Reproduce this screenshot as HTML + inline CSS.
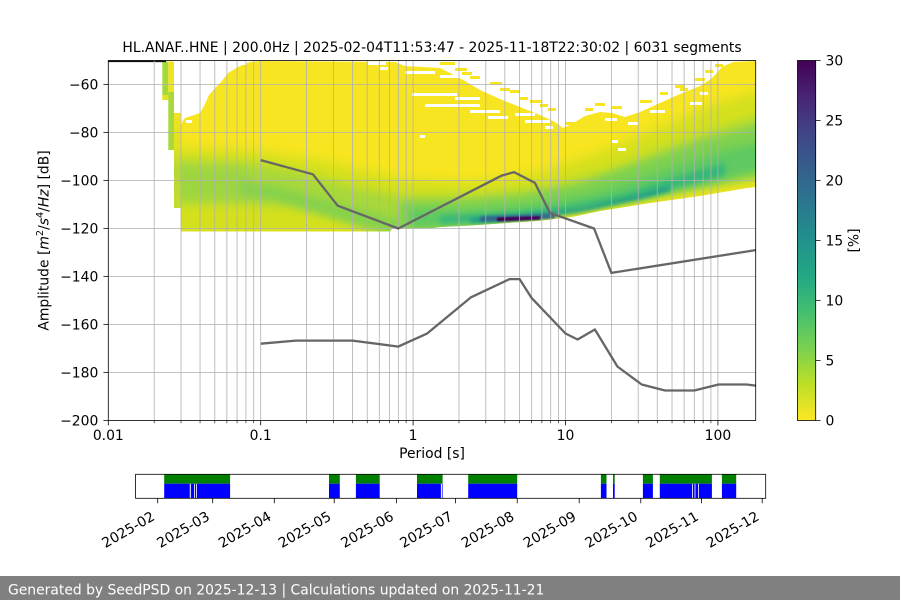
<!DOCTYPE html>
<html><head><meta charset="utf-8"><style>
html,body{margin:0;padding:0;background:#fff;}
svg{display:block;}
text{font-family:"DejaVu Sans","Liberation Sans",sans-serif;fill:#000;}
</style></head><body>
<svg width="900" height="600" viewBox="0 0 900 600" xmlns="http://www.w3.org/2000/svg">
<defs>
<clipPath id="ax"><rect x="108.3" y="60.5" width="647.4" height="360"/></clipPath>
<clipPath id="body"><polygon points="180.5,124 185,118 200,113 205,104 209,95 215,88 221,82 228,73 238,67 250,62 260,61 395,62 405,66 440,68 452,74 465,81 480,90 500,99 520,107 540,115 555,122 563,128 572,124 585,116 600,112 612,113 625,117 640,112 660,103 680,94 700,86 712,78 722,67 733,62 756,61 756,187 747,188 700,196 650,203 600,211 573,216.7 540,220.7 507,223 470,225.5 440,227 433,228 392,228.5 390,231.5 180.5,231.5"/></clipPath>
<filter id="b6" filterUnits="userSpaceOnUse" x="0" y="0" width="900" height="600"><feGaussianBlur stdDeviation="6"/></filter>
<filter id="b5" filterUnits="userSpaceOnUse" x="0" y="0" width="900" height="600"><feGaussianBlur stdDeviation="5"/></filter>
<filter id="b4" filterUnits="userSpaceOnUse" x="0" y="0" width="900" height="600"><feGaussianBlur stdDeviation="4"/></filter>
<filter id="b3" filterUnits="userSpaceOnUse" x="0" y="0" width="900" height="600"><feGaussianBlur stdDeviation="3"/></filter>
<filter id="b2" filterUnits="userSpaceOnUse" x="0" y="0" width="900" height="600"><feGaussianBlur stdDeviation="2"/></filter>
<filter id="b15" filterUnits="userSpaceOnUse" x="0" y="0" width="900" height="600"><feGaussianBlur stdDeviation="1.3"/></filter>
<filter id="b08" filterUnits="userSpaceOnUse" x="0" y="0" width="900" height="600"><feGaussianBlur stdDeviation="0.7"/></filter>
<linearGradient id="vir" x1="0" y1="0" x2="0" y2="1">
<stop offset="0" stop-color="#440154"/><stop offset="0.1" stop-color="#482475"/><stop offset="0.2" stop-color="#414487"/><stop offset="0.3" stop-color="#355f8d"/><stop offset="0.4" stop-color="#2a788e"/><stop offset="0.5" stop-color="#21918c"/><stop offset="0.6" stop-color="#22a884"/><stop offset="0.7" stop-color="#44bf70"/><stop offset="0.8" stop-color="#7ad151"/><stop offset="0.9" stop-color="#bddf26"/><stop offset="1" stop-color="#fde725"/>
</linearGradient>
<linearGradient id="strip3" x1="0" y1="0" x2="0" y2="1">
<stop offset="0" stop-color="#f2e320"/><stop offset="0.35" stop-color="#e0e11f"/><stop offset="0.6" stop-color="#b2d934"/><stop offset="1" stop-color="#c4dd2a"/>
</linearGradient>
</defs>

<!-- heatmap -->
<g clip-path="url(#ax)">
<g clip-path="url(#body)">
<rect x="170" y="55" width="600" height="190" fill="#f8e521"/>
<polygon filter="url(#b6)" fill="#d4e01f" points="170,148 250,150 320,160 400,178 470,182 540,172 600,152 660,127 720,102 770,88 770,182 600,210 430,234 170,238"/>
<polygon filter="url(#b5)" fill="#a8d83a" points="170,160 250,163 300,172 350,186 400,196 480,195 550,187 610,170 680,142 770,112 770,176 680,190 600,205 500,221 420,232 390,234 340,220 290,207 240,204 170,204"/>
<polygon filter="url(#b5)" fill="#9dd640" points="178,168 250,171 250,197 178,197"/>
<polygon filter="url(#b4)" fill="#86d24b" points="240,180 280,187 330,201 380,214 405,220 400,233 370,229 320,213 275,200 240,196"/>
<polygon filter="url(#b4)" fill="#7ed14f" points="400,202 460,201 520,196 580,184 640,163 700,142 770,122 770,172 700,187 640,199 580,209 520,219 460,226 400,230"/>
<polygon filter="url(#b4)" fill="#5ec962" points="410,210 470,210 530,205 590,194 650,175 710,154 770,140 770,166 710,181 650,195 590,206 530,217 470,224 410,228"/>
<polygon filter="url(#b3)" fill="#35b779" points="440,216 500,213 560,207 620,195 680,176 725,163 725,176 680,186 620,200 560,212 500,220 440,224"/>
<polygon filter="url(#b2)" fill="#1f9e89" points="470,218 520,215 580,208 640,194 670,186 670,191 640,199 580,212 520,220 470,223"/>
<polygon filter="url(#b15)" fill="#31688e" points="480,216.5 555,213.5 555,218.5 480,222"/>
<polygon filter="url(#b08)" fill="#440154" points="497,217.5 540,216.3 540,219.5 497,221.3"/>
</g>
<!-- white holes in yellow -->
<g fill="#fff">
<rect x="232" y="62" width="14" height="3"/><rect x="368" y="62" width="18" height="3"/><rect x="380" y="67" width="8" height="3"/>
<rect x="405" y="71" width="30" height="3"/><rect x="440" y="75" width="20" height="3"/>
<rect x="412" y="93" width="45" height="3"/><rect x="425" y="104" width="55" height="3"/>
<rect x="455" y="97" width="25" height="3"/><rect x="470" y="110" width="30" height="3"/>
<rect x="488" y="116" width="20" height="3"/><rect x="515" y="113" width="20" height="3"/>
<rect x="525" y="120" width="25" height="3"/><rect x="545" y="126" width="8" height="3"/>
<rect x="605" y="118" width="12" height="3"/><rect x="628" y="122" width="10" height="3"/>
<rect x="650" y="110" width="15" height="3"/><rect x="690" y="102" width="12" height="3"/>
<rect x="700" y="92" width="8" height="3"/><rect x="618" y="148" width="8" height="3"/>
<rect x="420" y="135" width="5" height="3"/><rect x="612" y="140" width="6" height="3"/>
<rect x="176" y="118" width="6" height="6"/><rect x="186" y="120" width="6" height="3"/>
</g>
<!-- scattered yellow outside -->
<g fill="#f8e521">
<rect x="440" y="62" width="15" height="3"/><rect x="455" y="68" width="12" height="3"/>
<rect x="470" y="76" width="10" height="3"/><rect x="490" y="82" width="12" height="3"/>
<rect x="510" y="90" width="10" height="3"/><rect x="530" y="100" width="12" height="3"/>
<rect x="548" y="108" width="8" height="3"/><rect x="595" y="103" width="10" height="3"/>
<rect x="640" y="100" width="12" height="3"/><rect x="660" y="92" width="8" height="3"/>
<rect x="675" y="85" width="10" height="3"/><rect x="695" y="78" width="10" height="3"/>
<rect x="705" y="70" width="8" height="3"/><rect x="565" y="122" width="10" height="3"/>
<rect x="520" y="97" width="8" height="3"/><rect x="585" y="108" width="8" height="3"/>
<rect x="462" y="72" width="10" height="3"/><rect x="500" y="88" width="10" height="3"/>
<rect x="540" y="104" width="8" height="3"/><rect x="612" y="106" width="10" height="3"/>
<rect x="680" y="88" width="8" height="3"/><rect x="715" y="64" width="8" height="3"/>
</g>
<!-- left strips -->
<rect x="162.3" y="61.5" width="6" height="36" fill="#a6d83a"/>
<rect x="162.3" y="95" width="6" height="5" fill="#e6e21e"/>
<rect x="168.3" y="61.5" width="5.7" height="30.5" fill="#f2e320"/>
<rect x="168.3" y="92" width="5.7" height="58" fill="#a8d83a"/>
<rect x="174" y="113" width="6.6" height="95" fill="url(#strip3)"/>
<line x1="108.3" y1="60.8" x2="166" y2="60.8" stroke="#111" stroke-width="2.6"/>
</g>

<!-- grid -->
<g stroke="#b0b0b0" stroke-width="0.8" fill="none">
<path d="M154.18 60.5V420.5M181.01 60.5V420.5M200.05 60.5V420.5M214.82 60.5V420.5M226.89 60.5V420.5M237.09 60.5V420.5M245.93 60.5V420.5M253.73 60.5V420.5M260.7 60.5V420.5M306.58 60.5V420.5M333.41 60.5V420.5M352.45 60.5V420.5M367.22 60.5V420.5M379.29 60.5V420.5M389.49 60.5V420.5M398.33 60.5V420.5M406.13 60.5V420.5M413.1 60.5V420.5M458.98 60.5V420.5M485.81 60.5V420.5M504.85 60.5V420.5M519.62 60.5V420.5M531.69 60.5V420.5M541.89 60.5V420.5M550.73 60.5V420.5M558.53 60.5V420.5M565.5 60.5V420.5M611.38 60.5V420.5M638.21 60.5V420.5M657.25 60.5V420.5M672.02 60.5V420.5M684.09 60.5V420.5M694.29 60.5V420.5M703.13 60.5V420.5M710.93 60.5V420.5M717.9 60.5V420.5"/>
<path d="M108.3 84.5H755.7M108.3 132.5H755.7M108.3 180.5H755.7M108.3 228.5H755.7M108.3 276.5H755.7M108.3 324.5H755.7M108.3 372.5H755.7"/>
</g>

<!-- noise model lines -->
<g clip-path="url(#ax)" fill="none" stroke="#666" stroke-width="2.3" stroke-linejoin="round">
<polyline points="260.7,160.1 312.9,174.3 337.7,205.7 398.3,228.5 501.5,175.7 514.1,172.1 534.9,182.9 549.9,212.9 594.1,228.5 611.4,272.9 755.7,250.1"/>
<polyline points="260.7,343.7 295.8,340.6 352.5,340.6 398.3,346.6 427.3,333.4 471,297.3 509.6,279.1 519.6,279.1 531.7,298.1 565.5,333.5 577.6,339.5 594.9,329.5 617.4,366.5 641.7,384.5 665.1,390.5 694.3,390.5 718.6,384.5 746.5,384.5 755.7,385.6"/>
</g>

<!-- spines -->
<rect x="108.3" y="60.5" width="647.4" height="360" fill="none" stroke="#000" stroke-width="0.8"/>

<!-- ticks -->
<g stroke="#000" stroke-width="0.8">
<path d="M108.3 420.5v4.9M260.7 420.5v4.9M413.1 420.5v4.9M565.5 420.5v4.9M717.9 420.5v4.9"/>
<path d="M108.3 84.5h-4.9M108.3 132.5h-4.9M108.3 180.5h-4.9M108.3 228.5h-4.9M108.3 276.5h-4.9M108.3 324.5h-4.9M108.3 372.5h-4.9M108.3 420.5h-4.9"/>
</g>
<g stroke="#000" stroke-width="0.6">
<path d="M154.18 420.5v2.8M181.01 420.5v2.8M200.05 420.5v2.8M214.82 420.5v2.8M226.89 420.5v2.8M237.09 420.5v2.8M245.93 420.5v2.8M253.73 420.5v2.8M306.58 420.5v2.8M333.41 420.5v2.8M352.45 420.5v2.8M367.22 420.5v2.8M379.29 420.5v2.8M389.49 420.5v2.8M398.33 420.5v2.8M406.13 420.5v2.8M458.98 420.5v2.8M485.81 420.5v2.8M504.85 420.5v2.8M519.62 420.5v2.8M531.69 420.5v2.8M541.89 420.5v2.8M550.73 420.5v2.8M558.53 420.5v2.8M611.38 420.5v2.8M638.21 420.5v2.8M657.25 420.5v2.8M672.02 420.5v2.8M684.09 420.5v2.8M694.29 420.5v2.8M703.13 420.5v2.8M710.93 420.5v2.8"/>
</g>

<!-- tick labels -->
<g font-size="13.9" text-anchor="end">
<text x="98.3" y="89.5">−60</text>
<text x="98.3" y="137.5">−80</text>
<text x="98.3" y="185.5">−100</text>
<text x="98.3" y="233.5">−120</text>
<text x="98.3" y="281.5">−140</text>
<text x="98.3" y="329.5">−160</text>
<text x="98.3" y="377.5">−180</text>
<text x="98.3" y="425.5">−200</text>
</g>
<g font-size="13.9" text-anchor="middle">
<text x="108.3" y="440">0.01</text>
<text x="260.7" y="440">0.1</text>
<text x="413.1" y="440">1</text>
<text x="565.5" y="440">10</text>
<text x="717.9" y="440">100</text>
<text x="432" y="458">Period [s]</text>
<text x="432" y="52">HL.ANAF..HNE | 200.0Hz | 2025-02-04T11:53:47 - 2025-11-18T22:30:02 | 6031 segments</text>
</g>
<text font-size="13.9" text-anchor="middle" transform="translate(48.3,240.5) rotate(-90)">Amplitude [<tspan font-style="italic">m</tspan><tspan font-size="9.7" dy="-5.5">2</tspan><tspan dy="5.5">/</tspan><tspan font-style="italic">s</tspan><tspan font-size="9.7" dy="-5.5">4</tspan><tspan dy="5.5">/</tspan><tspan font-style="italic">Hz</tspan>] [dB]</text>

<!-- colorbar -->
<rect x="797.5" y="60.5" width="18.2" height="360" fill="url(#vir)" stroke="#000" stroke-width="0.8"/>
<g stroke="#000" stroke-width="0.8">
<path d="M815.7 420.5h4.9M815.7 360.5h4.9M815.7 300.5h4.9M815.7 240.5h4.9M815.7 180.5h4.9M815.7 120.5h4.9M815.7 60.5h4.9"/>
</g>
<g font-size="13.9">
<text x="825.5" y="425.5">0</text>
<text x="825.5" y="365.5">5</text>
<text x="825.5" y="305.5">10</text>
<text x="825.5" y="245.5">15</text>
<text x="825.5" y="185.5">20</text>
<text x="825.5" y="125.5">25</text>
<text x="825.5" y="65.5">30</text>
</g>
<text font-size="13.9" text-anchor="middle" transform="translate(858.5,240.5) rotate(-90)">[%]</text>

<!-- timeline -->
<g>
<g fill="#008000">
<rect x="164.2" y="474.3" width="65.9" height="9.4"/>
<rect x="329" y="474.3" width="10.8" height="9.4"/>
<rect x="355.9" y="474.3" width="23.8" height="9.4"/>
<rect x="417" y="474.3" width="25.6" height="9.4"/>
<rect x="468.2" y="474.3" width="49" height="9.4"/>
<rect x="600.9" y="474.3" width="5.6" height="9.4"/>
<rect x="613" y="474.3" width="1.7" height="9.4"/>
<rect x="642.9" y="474.3" width="10" height="9.4"/>
<rect x="659.8" y="474.3" width="52.1" height="9.4"/>
<rect x="721.9" y="474.3" width="14.3" height="9.4"/>
</g>
<g fill="#0000ff">
<rect x="164.2" y="483.7" width="65.9" height="14.6"/>
<rect x="329" y="483.7" width="10.8" height="14.6"/>
<rect x="355.9" y="483.7" width="23.8" height="14.6"/>
<rect x="417" y="483.7" width="25.6" height="14.6"/>
<rect x="468.2" y="483.7" width="49" height="14.6"/>
<rect x="600.9" y="483.7" width="5.6" height="14.6"/>
<rect x="613" y="483.7" width="1.7" height="14.6"/>
<rect x="642.9" y="483.7" width="10" height="14.6"/>
<rect x="659.8" y="483.7" width="52.1" height="14.6"/>
<rect x="721.9" y="483.7" width="14.3" height="14.6"/>
</g>
<g fill="#fff">
<rect x="189.8" y="483.7" width="1" height="14.6"/>
<rect x="194.2" y="483.7" width="0.8" height="14.6"/>
<rect x="196" y="483.7" width="0.8" height="14.6"/>
<rect x="440.9" y="483.7" width="1" height="14.6"/>
<rect x="692" y="483.7" width="0.8" height="14.6"/>
<rect x="694.6" y="483.7" width="0.8" height="14.6"/>
<rect x="698.1" y="483.7" width="0.8" height="14.6"/>
</g>
<rect x="135.6" y="474.3" width="630.1" height="24" fill="none" stroke="#000" stroke-width="0.8"/>
<g stroke="#000" stroke-width="0.8">
<path d="M157.7 498.3v4.9M212.7 498.3v4.9M274.3 498.3v4.9M334.2 498.3v4.9M396.6 498.3v4.9M455.6 498.3v4.9M517.2 498.3v4.9M579.2 498.3v4.9M640.8 498.3v4.9M701.5 498.3v4.9M762.2 498.3v4.9"/>
</g>
<g font-size="13.9" text-anchor="end">
<text transform="translate(155.7,519.2) rotate(-30)">2025-02</text>
<text transform="translate(210.7,519.2) rotate(-30)">2025-03</text>
<text transform="translate(272.3,519.2) rotate(-30)">2025-04</text>
<text transform="translate(332.2,519.2) rotate(-30)">2025-05</text>
<text transform="translate(394.6,519.2) rotate(-30)">2025-06</text>
<text transform="translate(453.6,519.2) rotate(-30)">2025-07</text>
<text transform="translate(515.2,519.2) rotate(-30)">2025-08</text>
<text transform="translate(577.2,519.2) rotate(-30)">2025-09</text>
<text transform="translate(638.8,519.2) rotate(-30)">2025-10</text>
<text transform="translate(699.5,519.2) rotate(-30)">2025-11</text>
<text transform="translate(760.2,519.2) rotate(-30)">2025-12</text>
</g>
</g>

<!-- footer -->
<rect x="0" y="576" width="900" height="24" fill="#808080"/>
<text x="8" y="594.5" font-size="13.9" style="fill:#fff">Generated by SeedPSD on 2025-12-13 | Calculations updated on 2025-11-21</text>
</svg>
</body></html>
